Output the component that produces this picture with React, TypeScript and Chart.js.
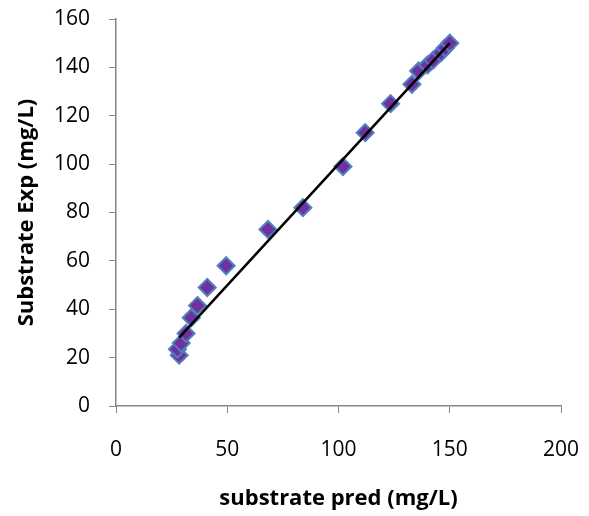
import React, { useEffect, useRef } from "react";
import { Chart, registerables } from "chart.js";

Chart.register(...registerables);

const predX = [28.4, 27.6, 29.3, 31.5, 33.8, 36.6, 41, 49.5, 68.3, 84, 102, 112, 123.4, 133, 136, 140, 142.5, 146, 148, 150];
const expY = [21, 23.5, 26, 30, 36.5, 41.5, 49, 58, 73, 82, 99, 113, 125, 133, 138.5, 141, 143, 146, 148, 150];
const trendX = [28.4, 150];
const trendY = [28.3, 150];
const xTicks = [0, 50, 100, 150, 200];
const yTicks = [0, 20, 40, 60, 80, 100, 120, 140, 160];
const xTitle = "substrate pred (mg/L)";
const yTitle = "Substrate Exp (mg/L)";

export default function App() {
  const ref = useRef<HTMLCanvasElement | null>(null);
  useEffect(() => {
    if (!ref.current) return;
    const axisGray = "#868686";
    const fontFamily = "'Open Sans', sans-serif";
    const zeroPad = (s: any) => {
      s.paddingTop = 0;
      s.paddingBottom = 0;
      s.paddingLeft = 0;
      s.paddingRight = 0;
    };
    const chart = new Chart(ref.current, {
      type: "scatter",
      data: {
        datasets: [
          {
            type: "scatter",
            data: predX.map((x, i) => ({ x, y: expY[i] })),
            pointStyle: "rectRot",
            pointRadius: 8.5,
            pointBorderWidth: 2,
            backgroundColor: "#7030A0",
            borderColor: "#4F81BD",
            order: 2,
          },
          {
            type: "line",
            data: trendX.map((x, i) => ({ x, y: trendY[i] })),
            borderColor: "#000000",
            borderWidth: 2.5,
            pointRadius: 0,
            showLine: true,
            fill: false,
            order: 1,
          } as any,
        ],
      },
      options: {
        animation: false,
        responsive: true,
        maintainAspectRatio: false,
        layout: { padding: { top: 19, right: 28, bottom: 4, left: 0 } },
        plugins: { legend: { display: false }, tooltip: { enabled: false } },
        scales: {
          x: {
            type: "linear",
            min: 0,
            max: 200,
            afterBuildTicks: (s: any) => {
              s.ticks = xTicks.map((v) => ({ value: v }));
            },
            afterFit: (s: any) => {
              s.height = 106;
              zeroPad(s);
            },
            grid: { display: true, drawOnChartArea: false, drawTicks: true, tickLength: 7, color: axisGray, lineWidth: 1 },
            border: { display: true, color: axisGray, width: 1.5 },
            ticks: { color: "#000", font: { family: fontFamily, size: 21 }, padding: 24, maxRotation: 0 },
            title: { display: true, text: xTitle, color: "#000", font: { family: fontFamily, size: 22, weight: "bold" }, padding: { top: 0, bottom: 0 } },
          },
          y: {
            type: "linear",
            min: 0,
            max: 160,
            afterBuildTicks: (s: any) => {
              s.ticks = yTicks.map((v) => ({ value: v }));
            },
            afterFit: (s: any) => {
              s.width = 116;
              zeroPad(s);
            },
            grid: { display: true, drawOnChartArea: false, drawTicks: true, tickLength: 7, color: axisGray, lineWidth: 1 },
            border: { display: true, color: axisGray, width: 1.5 },
            ticks: { color: "#000", font: { family: fontFamily, size: 21 }, padding: 19 },
            title: { display: true, text: yTitle, color: "#000", font: { family: fontFamily, size: 22, weight: "bold" }, padding: { top: 14, bottom: 0 } },
          },
        },
      },
    });
    return () => chart.destroy();
  }, []);
  return (
    <div style={{ position: "fixed", left: 0, top: 0, width: 589, height: 516, background: "#fff" }}>
      <canvas ref={ref} />
    </div>
  );
}
